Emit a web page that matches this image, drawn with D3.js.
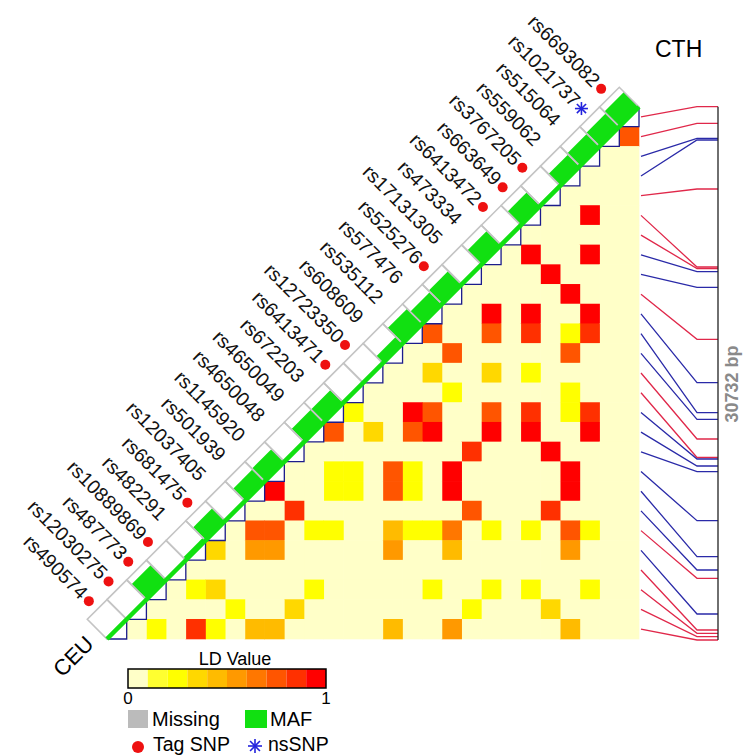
<!DOCTYPE html>
<html>
<head>
<meta charset="utf-8">
<script src="https://cdn.jsdelivr.net/npm/d3@7"></script>
<style>
body { margin: 0; background: #fff; }
text { font-family: "Liberation Sans", Arial, sans-serif; }
</style>
</head>
<body>
<svg width="744" height="756"></svg>
<script>
// SNPs from top-right (first) to bottom-left (last)
var snps = ["rs6693082","rs1021737","rs515064","rs559062","rs3767205","rs663649","rs6413472",
	"rs473334","rs17131305","rs525276","rs577476","rs535112","rs608609","rs12723350","rs6413471",
	"rs672203","rs4650049","rs4650048","rs1145920","rs501939","rs12037405","rs681475","rs482291",
	"rs10889869","rs487773","rs12030275","rs490574"];
var tagSnp = [1,0,0,0,1,1,1,0,0,1,0,0,0,1,1,0,0,0,0,0,0,1,0,1,1,1,1];
var nsSnp  = [0,1,0,0,0,0,0,0,0,0,0,0,0,0,0,0,0,0,0,0,0,0,0,0,0,0,0];
var maf    = [0.45,0.40,0.38,0.35,0.04,0.40,0.03,0.42,0.03,0.40,0.36,0.45,0.20,0.03,0.03,
	0.38,0.38,0.03,0.38,0.36,0.03,0.38,0.08,0.03,0.45,0.03,0.04];
// physical position relative to first SNP (bp)
var position = [0,957,1821,1919,4743,9238,9324,9508,10407,13404,15905,17634,18014,19149,20215,
	20302,20705,21034,23857,25932,26699,27177,29234,30156,30346,30542,30732];
var regionLength = 30732;

// LD pairs (snp a, snp b, value); all other pairs are ~0
var ldA = [0, 2,2,5,4,3,2,2,3,3,5,5,7,7,10,9,10,7,5,9,3,3,11,10,7,5,2,14,13,15,11,10,7,5,2,8,4,
	12,12,11,11,9,9,3,3,15,14,15,14,18,17,8,4,19,18,16,15,12,11,10,9,7,5,3,2,21,19,18,12,9,3,
	22,21,16,10,7,5,2,20,17,8,4,24,22,21,19,18,12,9,3];
var ldB = [1, 5,7,7,8,9,10,11,11,12,10,11,10,11,11,12,13,13,13,14,14,15,15,15,15,15,15,15,16,16,16,16,16,16,16,17,17,
	18,19,18,19,18,19,18,19,18,18,19,19,19,20,20,20,21,21,21,21,21,21,21,21,21,21,21,21,22,22,22,22,22,22,
	24,24,24,24,24,24,24,25,25,25,25,26,26,26,26,26,26,26,26];
var ldV = [0.75, 0.95,0.95,0.95,0.95,0.95,0.95,0.85,0.25,0.75,0.95,0.85,0.95,0.75,0.75,0.75,0.35,0.35,0.25,0.25,0.25,0.25,0.95,0.75,0.75,0.85,0.85,0.25,0.35,0.75,0.75,0.95,0.95,0.95,0.95,0.85,0.95,
	0.75,0.75,0.25,0.25,0.95,0.95,0.95,0.95,0.25,0.25,0.25,0.25,0.95,0.85,0.75,0.85,0.75,0.75,0.25,0.25,0.45,0.25,0.25,0.65,0.25,0.25,0.75,0.25,0.35,0.55,0.55,0.55,0.45,0.55,
	0.25,0.35,0.25,0.25,0.25,0.25,0.25,0.25,0.35,0.25,0.35,0.25,0.85,0.25,0.45,0.45,0.45,0.55,0.45];

var ldColors = ["#ffffc8","#ffff30","#ffff00","#ffd800","#ffbb00","#ff9900","#ff7700","#ff5500","#ff3000","#ff0000"];

var n = snps.length;
var svg = d3.select("svg");

var xs = d3.scaleLinear().domain([0, n]).range([107, 639]);
var ys = d3.scaleLinear().domain([0, n]).range([107, 639]);
var cell = xs(1) - xs(0);
var color = d3.scaleQuantize().domain([0, 1]).range(ldColors);
var posY = d3.scaleLinear().domain([0, regionLength]).range([106.7, 640]);

var red = "#e0284a", blue = "#2a2aa8", green = "#11e011";

// LD matrix, lower part
var ld = {};
ldA.forEach(function(a, k){ ld[a+"_"+ldB[k]] = ldV[k]; });
var cells = [];
for (var j = 1; j < n; j++) for (var i = 0; i < j; i++) cells.push({i:i, j:j, v: ld[i+"_"+j] || 0});

svg.append("g").selectAll("rect").data(cells)
	.enter().append("rect")
	.attr("x", function(d){ return xs(n-1-d.i) - 0.3; })
	.attr("y", function(d){ return ys(d.j) - 0.3; })
	.attr("width", cell + 0.6)
	.attr("height", cell + 0.6)
	.attr("fill", function(d){ return color(d.v); });

// staircase outline of the diagonal cells
var stair = "M" + xs(n) + "," + ys(0);
for (var k = 0; k < n; k++) stair += "V" + ys(k+1) + "H" + xs(n-1-k);
svg.append("path").attr("d", stair).attr("fill", "none").attr("stroke", "#1c1c8c").attr("stroke-width", 1.3);

// SNP boxes along the diagonal
function P(k){ return [xs(n-k), ys(k)]; }
function quad(i, h){
	var a = P(i), b = P(i+1);
	return "M"+a[0]+","+a[1]+"L"+b[0]+","+b[1]+"L"+(b[0]-h)+","+(b[1]-h)+"L"+(a[0]-h)+","+(a[1]-h)+"Z";
}
var idx = d3.range(n);
svg.append("g").selectAll("path").data(idx)
	.enter().append("path")
	.attr("d", function(i){ return quad(i, cell); })
	.attr("fill", "#fff");
svg.append("g").selectAll("path").data(idx)
	.enter().append("path")
	.attr("d", function(i){ return quad(i, cell * maf[i] * 2 * 0.85); })
	.attr("fill", green);
svg.append("g").selectAll("path").data(idx)
	.enter().append("path")
	.attr("d", function(i){ return quad(i, cell); })
	.attr("fill", "none")
	.attr("stroke", "#c4c4c4")
	.attr("stroke-width", 1.6);
svg.append("line")
	.attr("x1", xs(n)).attr("y1", ys(0)).attr("x2", xs(0)).attr("y2", ys(n))
	.attr("stroke", green).attr("stroke-width", 4.5);

// labels
var lab = svg.append("g").selectAll("g").data(idx)
	.enter().append("g")
	.attr("transform", function(i){ return "translate(" + (xs(n-i-0.5)-28) + "," + (ys(i+0.5)-28) + ")"; });
lab.append("text")
	.attr("transform", "rotate(45)")
	.attr("x", -7).attr("y", 6)
	.attr("text-anchor", "end")
	.attr("font-size", 19.5)
	.attr("fill", "#111")
	.text(function(i){ return snps[i]; });
lab.filter(function(i){ return tagSnp[i] && !nsSnp[i]; }).append("circle")
	.attr("r", 5).attr("fill", "#ee1111");
lab.filter(function(i){ return nsSnp[i]; }).each(function(){ star(d3.select(this), 0, 0, 6.5); });

function star(g, cx, cy, r){
	for (var a = 0; a < 4; a++){
		var t = a * Math.PI / 4;
		g.append("line")
			.attr("x1", cx - r*Math.cos(t)).attr("y1", cy - r*Math.sin(t))
			.attr("x2", cx + r*Math.cos(t)).attr("y2", cy + r*Math.sin(t))
			.attr("stroke", "#2222dd").attr("stroke-width", 1.6);
	}
}

// physical position connectors
svg.append("g").selectAll("path").data(idx)
	.enter().append("path")
	.attr("d", function(i){
		var yc = ys(i+0.5), yp = posY(position[i]);
		return "M" + (xs(n)+2) + "," + yc + "L697," + yp + "L718," + yp;
	})
	.attr("fill", "none")
	.attr("stroke", function(i){ return (tagSnp[i] || nsSnp[i]) ? red : blue; })
	.attr("stroke-width", 1.3);
svg.append("line")
	.attr("x1", 718).attr("x2", 718).attr("y1", posY(0)).attr("y2", posY(regionLength))
	.attr("stroke", "#222").attr("stroke-width", 1.3);
svg.append("text")
	.attr("transform", "translate(738,384) rotate(-90)")
	.attr("text-anchor", "middle")
	.attr("font-size", 18).attr("font-weight", "bold").attr("fill", "#8a8a8a")
	.text(regionLength + " bp");

svg.append("text").attr("x", 655).attr("y", 57).attr("font-size", 23).text("CTH");
svg.append("text")
	.attr("transform", "translate(73,656) rotate(-45)")
	.attr("text-anchor", "middle").attr("dy", "0.36em")
	.attr("font-size", 22).text("CEU");

// legend
var lx = d3.scaleBand().domain(d3.range(10)).range([128, 326]);
svg.append("text").attr("x", 235).attr("y", 665).attr("text-anchor", "middle").attr("font-size", 18).text("LD Value");
svg.append("g").selectAll("rect").data(ldColors)
	.enter().append("rect")
	.attr("x", function(d, k){ return lx(k); })
	.attr("y", 669).attr("width", lx.bandwidth()).attr("height", 19)
	.attr("fill", function(d){ return d; });
svg.append("rect").attr("x", 128).attr("y", 669).attr("width", 198).attr("height", 19)
	.attr("fill", "none").attr("stroke", "#000").attr("stroke-width", 1.5);
svg.append("text").attr("x", 128).attr("y", 704).attr("text-anchor", "middle").attr("font-size", 17).text("0");
svg.append("text").attr("x", 326).attr("y", 704).attr("text-anchor", "middle").attr("font-size", 17).text("1");

svg.append("rect").attr("x", 128).attr("y", 710).attr("width", 20).attr("height", 18).attr("fill", "#bbb");
svg.append("text").attr("x", 152).attr("y", 726).attr("font-size", 20).text("Missing");
svg.append("rect").attr("x", 245).attr("y", 710).attr("width", 22).attr("height", 18).attr("fill", green);
svg.append("text").attr("x", 270).attr("y", 726).attr("font-size", 20).text("MAF");
svg.append("circle").attr("cx", 138).attr("cy", 747).attr("r", 6).attr("fill", "#ee1111");
svg.append("text").attr("x", 153).attr("y", 751).attr("font-size", 19.5).text("Tag SNP");
star(svg, 255, 746, 7);
svg.append("text").attr("x", 268).attr("y", 751).attr("font-size", 19.5).text("nsSNP");
</script>
</body>
</html>
